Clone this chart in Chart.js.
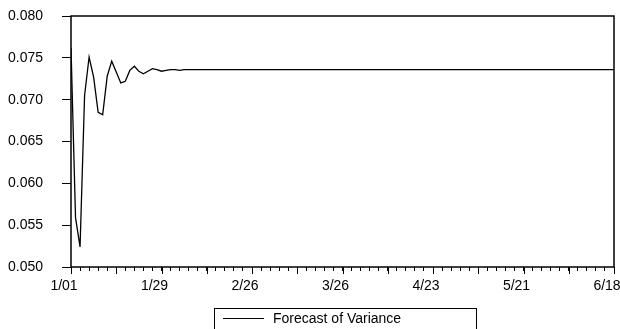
<!DOCTYPE html>
<html>
<head>
<meta charset="utf-8">
<script src="https://cdn.jsdelivr.net/npm/chart.js@4/dist/chart.umd.min.js"></script>
<style>
    body { margin: 0; background: #fff; }
    #wrap { position: relative; width: 620px; height: 329px; overflow: hidden; }
    #legend {
        position: absolute; left: 214px; top: 308px; width: 261px; height: 30px;
        border: 1px solid #000; font: 14px 'Liberation Sans', Arial, sans-serif; color: #000;
    }
    #legend .swatch { position: absolute; left: 8px; top: 9px; width: 41px; border-top: 1px solid #000; }
    #legend .txt { position: absolute; left: 58px; top: 1px; }
</style>
</head>
<body>
<div id="wrap">
    <canvas id="varChart" width="620" height="329"></canvas>
    <div id="legend"><span class="swatch"></span><span class="txt">Forecast of Variance</span></div>
</div>
<script>
// x tick labels, one every 20 observations (business days)
const dateLabels = ['1/01', '1/29', '2/26', '3/26', '4/23', '5/21', '6/18'];
const labelEvery = 20;

// forecast of variance, one value per observation
const varianceValues = [
    0.0762, 0.0559, 0.0524, 0.0705, 0.0751, 0.0727, 0.0685, 0.0682, 0.0728, 0.0746,
    0.0733, 0.0720, 0.0722, 0.0735, 0.0740, 0.0734, 0.0731, 0.0734, 0.0737, 0.0736,
    0.0734, 0.0735, 0.0736, 0.0736, 0.0735, 0.0736, 0.0736, 0.0736, 0.0736, 0.0736,
    0.0736, 0.0736, 0.0736, 0.0736, 0.0736, 0.0736, 0.0736, 0.0736, 0.0736, 0.0736,
    0.0736, 0.0736, 0.0736, 0.0736, 0.0736, 0.0736, 0.0736, 0.0736, 0.0736, 0.0736,
    0.0736, 0.0736, 0.0736, 0.0736, 0.0736, 0.0736, 0.0736, 0.0736, 0.0736, 0.0736,
    0.0736, 0.0736, 0.0736, 0.0736, 0.0736, 0.0736, 0.0736, 0.0736, 0.0736, 0.0736,
    0.0736, 0.0736, 0.0736, 0.0736, 0.0736, 0.0736, 0.0736, 0.0736, 0.0736, 0.0736,
    0.0736, 0.0736, 0.0736, 0.0736, 0.0736, 0.0736, 0.0736, 0.0736, 0.0736, 0.0736,
    0.0736, 0.0736, 0.0736, 0.0736, 0.0736, 0.0736, 0.0736, 0.0736, 0.0736, 0.0736,
    0.0736, 0.0736, 0.0736, 0.0736, 0.0736, 0.0736, 0.0736, 0.0736, 0.0736, 0.0736,
    0.0736, 0.0736, 0.0736, 0.0736, 0.0736, 0.0736, 0.0736, 0.0736, 0.0736, 0.0736,
    0.0736
];

const FONT = { family: "'Liberation Sans', Arial, sans-serif", size: 14 };

// box round the plot and longer major ticks on the x axis
const framePlugin = {
    id: 'frame',
    afterDraw(chart) {
        const { ctx, chartArea: a, scales } = chart;
        ctx.save();
        ctx.strokeStyle = '#000';
        ctx.lineWidth = 1.5;
        ctx.strokeRect(a.left, a.top, a.right - a.left, a.bottom - a.top);
        ctx.lineWidth = 1;
        for (let v = 0; v <= varianceValues.length - 1; v += 10) {
            const x = Math.round(scales.x.getPixelForValue(v)) + 0.5;
            ctx.beginPath();
            ctx.moveTo(x, a.bottom);
            ctx.lineTo(x, a.bottom + 7);
            ctx.stroke();
        }
        ctx.restore();
    }
};

const ctx = document.getElementById('varChart').getContext('2d');
new Chart(ctx, {
    type: 'line',
    data: {
        datasets: [{
            label: 'Forecast of Variance',
            data: varianceValues.map((v, i) => ({ x: i, y: v })),
            borderColor: '#000',
            borderWidth: 1.3,
            pointRadius: 0,
            tension: 0
        }]
    },
    options: {
        responsive: false,
        animation: false,
        layout: { padding: { top: 16, right: 6, left: 0, bottom: 32 } },
        plugins: { legend: { display: false }, tooltip: { enabled: false } },
        scales: {
            x: {
                type: 'linear',
                min: 0,
                max: varianceValues.length - 1,
                border: { display: false },
                grid: { drawOnChartArea: false, tickLength: 4, tickColor: '#000' },
                ticks: {
                    stepSize: 2,
                    autoSkip: false,
                    maxRotation: 0,
                    padding: 7,
                    labelOffset: -7,
                    color: '#000',
                    font: FONT,
                    callback: v => (v % labelEvery === 0 ? dateLabels[v / labelEvery] : '')
                },
                afterFit(scale) {
                    scale.height = 30;
                    scale.paddingLeft = 0;
                    scale.paddingRight = 0;
                }
            },
            y: {
                min: 0.05,
                max: 0.08,
                border: { display: false },
                grid: { drawOnChartArea: false, tickLength: 9, tickColor: '#000' },
                ticks: {
                    stepSize: 0.005,
                    padding: 19,
                    color: '#000',
                    font: FONT,
                    callback: v => v.toFixed(3)
                },
                afterFit(scale) {
                    scale.width = 71;
                    scale.paddingTop = 0;
                    scale.paddingBottom = 0;
                }
            }
        }
    },
    plugins: [framePlugin]
});
</script>
</body>
</html>
